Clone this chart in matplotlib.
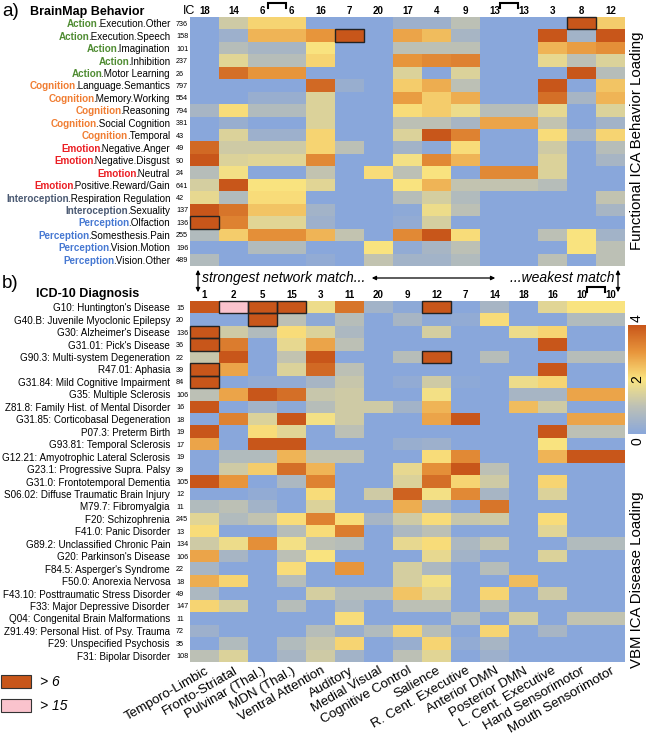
import matplotlib
matplotlib.use("Agg")
import matplotlib.pyplot as plt
import numpy as np
from matplotlib.colors import LinearSegmentedColormap
from matplotlib.patches import Rectangle, FancyArrowPatch
from matplotlib.transforms import blended_transform_factory, IdentityTransform

plt.rcParams["font.family"] = ["Liberation Sans", "DejaVu Sans"]

W, H = 647, 737

# ---------------- data ----------------
networks = ["Temporo-Limbic", "Fronto-Striatal", "Pulvinar (Thal.)", "MDN (Thal.)",
            "Ventral Attention", "Auditory", "Medial Visual", "Cognitive Control",
            "Salience", "R. Cent. Executive", "Anterior DMN", "Posterior DMN",
            "L. Cent. Executive", "Hand Sensorimotor", "Mouth Sensorimotor"]

behavior_ic = ["18", "14", "6", "6", "16", "7", "20", "17", "4", "9", "13", "13", "3", "8", "12"]
behavior_domain = ["Action"] * 5 + ["Cognition"] * 5 + ["Emotion"] * 4 + \
                  ["Interoception"] * 2 + ["Perception"] * 4
behavior_task = [".Execution.Other", ".Execution.Speech", ".Imagination", ".Inhibition",
                 ".Motor Learning", ".Language.Semantics", ".Memory.Working", ".Reasoning",
                 ".Social Cognition", ".Temporal", ".Negative.Anger", ".Negative.Disgust",
                 ".Neutral", ".Positive.Reward/Gain", ".Respiration Regulation", ".Sexuality",
                 ".Olfaction", ".Somesthesis.Pain", ".Vision.Motion", ".Vision.Other"]
behavior_n = [736, 158, 101, 237, 26, 797, 554, 794, 381, 43,
              49, 90, 24, 641, 42, 137, 136, 255, 196, 489]
# loadings (values > 6 are boxed, > 15 drawn pink)
behavior_load = [
    [0, 1.3, 2.2, 2.2, 0, 0, 0, 0.4, 0.4, 1.0, 0, 0, 0, 7, 2.3],
    [0, 0.4, 2.6, 2.6, 3.0, 7, 0, 2.8, 2.5, 0.6, 0, 0, 4.5, 0.5, 4.5],
    [0, 0.9, 0.6, 0.6, 2.0, 0, 0, 1.0, 1.0, 1.0, 0, 0, 2.6, 2.9, 3.1],
    [0, 1.6, 0.9, 0.9, 2.2, 0, 0, 3.0, 3.2, 3.3, 0, 0, 1.7, 1.0, 1.5],
    [0, 3.6, 3.0, 3.0, 0, 0, 0, 1.5, 0, 1.5, 0, 0, 0, 4.5, 0.9],
    [0, 0, 0, 0, 3.7, 0.3, 0, 2.3, 2.7, 1.0, 0, 0, 4.5, 0, 2.4],
    [0, 0, 0.3, 0.3, 1.5, 0, 0, 2.9, 2.3, 2.7, 0, 0, 3.6, 0.6, 2.6],
    [0.6, 2.1, 0.8, 0.8, 1.5, 0, 0, 2.1, 2.3, 1.8, 0.9, 0.9, 1.7, 0, 1.5],
    [0, 0.3, 0, 0, 1.5, 0, 0, 1.0, 1.0, 0.6, 2.8, 2.8, 1.1, 0, 0.5],
    [0, 1.5, 0.4, 0.4, 2.2, 0, 0, 1.5, 4.5, 3.3, 0, 0, 2.1, 0.6, 2.2],
    [3.7, 1.3, 1.3, 1.3, 2.2, 1.0, 0, 0.5, 0.1, 2.1, 0, 0, 1.3, 0, 0.9],
    [4.2, 1.5, 1.6, 1.6, 3.2, 0, 0, 1.9, 3.2, 2.6, 0, 0, 1.5, 0, 0.6],
    [0.9, 1.9, 0, 0, 1.1, 0, 2.1, 1.0, 2.0, 0, 3.2, 3.2, 1.5, 0, 0],
    [1.4, 4.5, 2.0, 2.0, 1.6, 0, 0, 2.0, 2.6, 1.1, 1.1, 1.1, 0.9, 0, 0],
    [1.7, 0.8, 2.1, 2.1, 0, 0, 0, 0.9, 1.4, 0.8, 0, 0, 0, 0, 1.1],
    [4.5, 3.5, 2.4, 2.4, 0.5, 0, 0, 0.1, 1.8, 1.0, 0, 0, 0, 0, 0.6],
    [7, 3.3, 1.6, 1.6, 0.4, 0, 0, 0.2, 1.4, 0, 0, 0, 0, 0, 0],
    [0.8, 2.3, 3.1, 3.1, 2.6, 1.1, 0, 3.2, 4.5, 2.1, 0, 0, 1.0, 2.0, 0.5],
    [0, 0, 0.8, 0.8, 0, 0, 2.0, 0.2, 0.6, 1.0, 0, 0, 0, 2.0, 1.0],
    [0.8, 0, 0, 0, 0.2, 0, 1.1, 0.5, 0.5, 0.8, 0, 0, 1.0, 0, 1.0],
]

diagnosis_ic = ["1", "2", "5", "15", "3", "11", "20", "9", "12", "7", "14", "18", "16", "10", "10"]
diagnosis = ["G10: Huntington's Disease", "G40.B: Juvenile Myoclonic Epilepsy",
             "G30: Alzheimer's Disease", "G31.01: Pick's Disease",
             "G90.3: Multi-system Degeneration", "R47.01: Aphasia",
             "G31.84: Mild Cognitive Impairment", "G35: Multiple Sclerosis",
             "Z81.8: Family Hist. of Mental Disorder", "G31.85: Corticobasal Degeneration",
             "P07.3: Preterm Birth", "G93.81: Temporal Sclerosis",
             "G12.21: Amyotrophic Lateral Sclerosis", "G23.1: Progressive Supra. Palsy",
             "G31.0: Frontotemporal Dementia", "S06.02: Diffuse Traumatic Brain Injury",
             "M79.7: Fibromyalgia", "F20: Schizophrenia", "F41.0: Panic Disorder",
             "G89.2: Unclassified Chronic Pain", "G20: Parkinson's Disease",
             "F84.5: Asperger's Syndrome", "F50.0: Anorexia Nervosa",
             "F43.10: Posttraumatic Stress Disorder", "F33: Major Depressive Disorder",
             "Q04: Congenital Brain Malformations", "Z91.49: Personal Hist. of Psy. Trauma",
             "F29: Unspecified Psychosis", "F31: Bipolar Disorder"]
diagnosis_n = [15, 20, 136, 36, 22, 39, 84, 106, 16, 18, 19, 17, 19, 39, 105,
               12, 11, 245, 13, 134, 106, 22, 18, 49, 147, 11, 72, 35, 108]
diagnosis_load = [
    [4.5, 16, 7, 7, 1.8, 3.5, 0.5, 0.1, 7, 0, 0.6, 0, 1.6, 2.0, 2.0],
    [0, 0, 7, 1.0, 0.1, 0.9, 0, 0.6, 0.1, 0.2, 2.1, 0, 0, 0.8, 0.8],
    [7, 1.3, 0.8, 2.1, 1.5, 0.7, 0, 0, 1.4, 0, 0, 1.8, 2.2, 0, 0],
    [7, 3.4, 0, 1.7, 2.8, 1.0, 0, 0, 0, 0, 0, 0, 4.5, 0, 0],
    [1.2, 4.5, 0, 1.1, 4.2, 0, 0, 0.9, 7, 0, 0.9, 0, 0, 0.9, 0.9],
    [7, 2.8, 0, 1.5, 3.7, 1.0, 0, 0, 0, 0, 0, 0, 4.5, 0, 0],
    [7, 0, 0.2, 0.2, 0.6, 1.2, 0, 0.2, 1.3, 0.1, 0, 1.8, 2.2, 0, 0],
    [1.0, 2.8, 4.5, 3.6, 1.2, 1.3, 0, 0, 1.9, 0, 0, 0.6, 0.6, 2.8, 2.8],
    [4.5, 0, 0.5, 0.1, 0.9, 1.3, 1.3, 0.5, 2.6, 0, 0, 2.5, 1.3, 0, 0],
    [0, 3.3, 1.5, 4.5, 1.9, 1.3, 0, 0, 2.8, 4.5, 0, 0, 0, 2.8, 2.8],
    [4.5, 0, 2.1, 1.6, 0, 1.0, 0, 0, 0, 0, 0, 0, 4.5, 1.0, 1.0],
    [2.8, 0, 4.5, 4.5, 0, 0, 0, 0.3, 0.4, 0, 0, 0, 2.0, 0, 0],
    [0, 0.8, 0.8, 2.6, 1.1, 1.1, 0, 0, 2.1, 3.2, 0, 0, 2.6, 4.5, 4.5],
    [0, 1.3, 2.3, 3.6, 2.6, 0, 0, 1.7, 3.1, 4.5, 1.0, 0, 0, 0, 0],
    [4.5, 3.0, 0, 0.7, 3.3, 0, 0, 1.5, 3.6, 2.2, 1.3, 0, 2.2, 0, 0],
    [0, 0, 0.2, 0, 2.1, 0, 1.3, 3.8, 1.9, 3.2, 0.6, 0, 1.5, 0, 0],
    [0.8, 1.0, 0.5, 0, 1.5, 0, 0, 2.7, 0.6, 0, 3.5, 0, 0, 0, 0],
    [1.6, 0.8, 1.1, 2.1, 3.3, 2.1, 0.6, 1.3, 2.1, 1.2, 1.3, 0, 2.1, 0, 0],
    [2.1, 0, 0, 0.9, 2.1, 3.4, 0, 0.7, 1.0, 0, 0, 0, 1.6, 0, 0],
    [1.3, 1.8, 3.1, 1.9, 1.0, 0.9, 0, 1.7, 2.1, 0.7, 1.2, 0, 0, 0.8, 0.8],
    [2.8, 0.6, 0, 1.0, 2.0, 0, 0, 0, 1.7, 0.5, 0, 0, 1.5, 0, 0],
    [0.6, 0, 0, 2.1, 0, 3.0, 0, 1.4, 0.7, 0, 0.9, 0, 0, 0, 0],
    [2.7, 2.2, 0, 0.9, 0, 0, 0, 1.4, 1.9, 0, 0, 2.5, 0, 0, 0],
    [0.7, 0, 0, 0, 1.4, 0.9, 0.9, 2.4, 1.6, 0, 2.2, 0, 1.3, 0, 0],
    [2.2, 1.4, 0, 0.9, 0, 0.7, 0, 1.0, 1.0, 0, 0.9, 0, 0, 0, 0],
    [0, 0, 0, 0, 0, 2.1, 0, 0, 0, 0.9, 0, 1.4, 0, 1.1, 1.1],
    [0.4, 0, 0, 0, 0.9, 0.3, 0.8, 2.2, 0.9, 0, 2.2, 0, 0.6, 0, 0],
    [0, 0.8, 0, 0.8, 1.2, 2.2, 0, 0.3, 2.2, 0.2, 0.6, 0, 0, 0, 0],
    [1.0, 1.5, 0, 0.6, 1.3, 0.5, 0, 1.0, 1.6, 0, 0.4, 0, 0, 0, 0],
]

domain_colors = {"Action": "#4f8c32", "Cognition": "#f07d32", "Emotion": "#eb1e23",
                 "Interoception": "#4b5a73", "Perception": "#4678d2"}

# ---------------- styling ----------------
cmap = LinearSegmentedColormap.from_list(
    "load", ["#89a7db", "#bcc0b6", "#fae480", "#e8963c", "#c8561a"])
PINK = "#fac3cd"
DARK = "#c8561a"


def px_rect(x0, y0, x1, y1):
    return [x0 / W, 1 - y1 / H, (x1 - x0) / W, (y1 - y0) / H]


def heatmap(ax, data, ic):
    data = np.asarray(data, dtype=float)
    nrow, ncol = data.shape
    im = ax.imshow(np.clip(data, 0, 4), cmap=cmap, vmin=0, vmax=4,
                   aspect="auto", interpolation="nearest")
    rows, cols = np.nonzero(data > 6)
    for r, c in zip(rows, cols):
        face = PINK if data[r, c] > 15 else "none"
        ax.add_patch(Rectangle((c - 0.5, r - 0.5), 1, 1, facecolor=face,
                               edgecolor="#222222", lw=1.0, clip_on=False))
    ax.set_xticks([])
    ax.set_yticks([])
    for s in ax.spines.values():
        s.set_visible(False)
    for j, lab in enumerate(ic):
        ax.text(j, -0.6, lab, ha="center", va="bottom", fontsize=7, fontweight="bold")
    for j in range(len(ic) - 1):
        if ic[j] == ic[j + 1]:
            ax.plot([j + 0.2, j + 0.2, j + 0.8, j + 0.8], [-1.25, -1.65, -1.65, -1.25],
                    color="k", lw=1.5, clip_on=False, solid_joinstyle="miter")
    ax.set_xlim(-0.5, ncol - 0.5)
    ax.set_ylim(nrow - 0.5, -0.5)
    return im


fig = plt.figure(figsize=(W / 100, H / 100), dpi=100)
renderer = fig.canvas.get_renderer()

ax_top = fig.add_axes(px_rect(190, 17, 625, 266))
ax_bot = fig.add_axes(px_rect(190, 301, 625, 662))

heatmap(ax_top, behavior_load, behavior_ic)
im = heatmap(ax_bot, diagnosis_load, diagnosis_ic)

# row labels - behaviours with coloured domain prefix
tr_top = blended_transform_factory(fig.transFigure, ax_top.transData)
tr_pix = blended_transform_factory(IdentityTransform(), ax_top.transData)
for i, (dom, task, n) in enumerate(zip(behavior_domain, behavior_task, behavior_n)):
    t = ax_top.text(170 / W, i, task, transform=tr_top, ha="right",
                    va="center_baseline", fontsize=7.1)
    x0 = t.get_window_extent(renderer).x0
    ax_top.text(x0 + 1.2, i, dom, ha="right", va="center_baseline", fontsize=7.1,
                fontweight="bold", color=domain_colors[dom], transform=tr_pix)
    ax_top.text(176 / W, i, str(n), transform=tr_top, ha="left",
                va="center_baseline", fontsize=5.2)

tr_bot = blended_transform_factory(fig.transFigure, ax_bot.transData)
for i, (lab, n) in enumerate(zip(diagnosis, diagnosis_n)):
    ax_bot.text(170 / W, i, lab, transform=tr_bot, ha="right",
                va="center_baseline", fontsize=7.1)
    ax_bot.text(176 / W, i, str(n), transform=tr_bot, ha="left",
                va="center_baseline", fontsize=5.2)

ax_bot.set_xticks(range(len(networks)))
ax_bot.set_xticklabels(networks, rotation=30, ha="right", va="top",
                       rotation_mode="anchor", fontsize=9.6)
ax_bot.tick_params(axis="x", length=0, pad=2)

# titles
fig.text(2 / W, 1 - 12 / H, "a)", fontsize=13.5, va="center")
fig.text(30 / W, 1 - 12 / H, "BrainMap Behavior", fontsize=9, fontweight="bold", va="center")
fig.text(183 / W, 1 - 11 / H, "IC", fontsize=9, va="center")
fig.text(2 / W, 1 - 284 / H, "b)", fontsize=13.5, va="center")
fig.text(36 / W, 1 - 294 / H, "ICD-10 Diagnosis", fontsize=9, fontweight="bold", va="center")

# strongest / weakest annotation
fig.text(202 / W, 1 - 278 / H, "strongest network match...", fontsize=10,
         style="italic", va="center")
fig.text(615 / W, 1 - 278 / H, "...weakest match", fontsize=10,
         style="italic", va="center", ha="right")
for (xa, ya), (xb, yb) in [((369, 278), (498, 278)), ((198, 267), (198, 295)),
                           ((618, 267), (618, 295))]:
    fig.add_artist(FancyArrowPatch((xa / W, 1 - ya / H), (xb / W, 1 - yb / H),
                                   transform=fig.transFigure, arrowstyle="<|-|>",
                                   mutation_scale=6, lw=0.9, color="k"))

# side labels
fig.text(637 / W, 1 - 141 / H, "Functional ICA Behavior Loading", rotation=90,
         ha="center", va="center", fontsize=10.8)
fig.text(637 / W, 1 - 580 / H, "VBM ICA Disease Loading", rotation=90,
         ha="center", va="center", fontsize=10.8)

# colour bar
cax = fig.add_axes(px_rect(628, 325, 646, 434))
cb = fig.colorbar(im, cax=cax)
cb.set_ticks([])
cb.outline.set_visible(False)
cax.text(0.5, 1.03, "4", rotation=90, ha="center", va="bottom", fontsize=10,
         transform=cax.transAxes)
cax.text(0.5, 0.5, "2", rotation=90, ha="center", va="center", fontsize=10,
         transform=cax.transAxes)
cax.text(0.5, -0.03, "0", rotation=90, ha="center", va="top", fontsize=10,
         transform=cax.transAxes)

# legend for boxed cells
for (y, face, lab) in [(675, DARK, "> 6"), (699, PINK, "> 15")]:
    fig.add_artist(Rectangle((1 / W, 1 - (y + 13) / H), 30 / W, 13 / H,
                             transform=fig.transFigure, facecolor=face,
                             edgecolor="#333333", lw=0.8))
    fig.text(40 / W, 1 - (y + 6.5) / H, lab, fontsize=10, style="italic", va="center")

fig.savefig("out.png", dpi=100)
